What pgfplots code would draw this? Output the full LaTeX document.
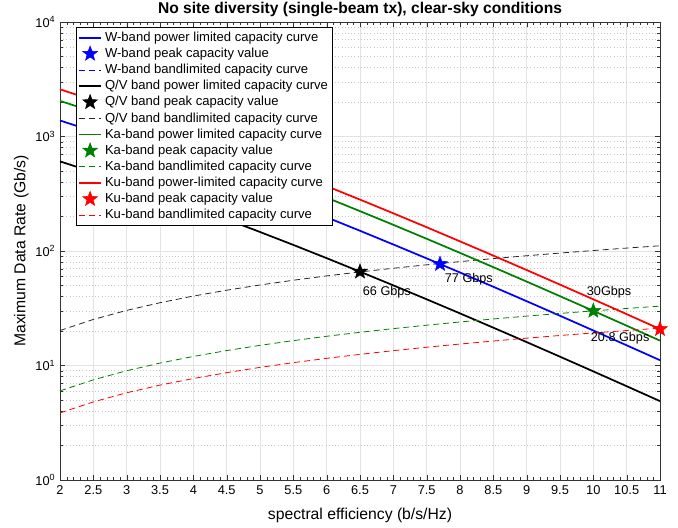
\documentclass[border=0pt]{standalone}
\usepackage{fontspec}
\setmainfont{Liberation Sans}
\usepackage{pgfplots}
\pgfplotsset{compat=1.18}
\definecolor{mgreen}{rgb}{0,0.5,0}
\pgfdeclareplotmark{fstar}{%
  \pgfpathmoveto{\pgfqpointpolar{90}{\pgfplotmarksize}}%
  \pgfpathlineto{\pgfqpointpolar{126}{0.42\pgfplotmarksize}}%
  \pgfpathlineto{\pgfqpointpolar{162}{\pgfplotmarksize}}%
  \pgfpathlineto{\pgfqpointpolar{198}{0.42\pgfplotmarksize}}%
  \pgfpathlineto{\pgfqpointpolar{234}{\pgfplotmarksize}}%
  \pgfpathlineto{\pgfqpointpolar{270}{0.42\pgfplotmarksize}}%
  \pgfpathlineto{\pgfqpointpolar{306}{\pgfplotmarksize}}%
  \pgfpathlineto{\pgfqpointpolar{342}{0.42\pgfplotmarksize}}%
  \pgfpathlineto{\pgfqpointpolar{18}{\pgfplotmarksize}}%
  \pgfpathlineto{\pgfqpointpolar{54}{0.42\pgfplotmarksize}}%
  \pgfpathclose
  \pgfusepathqfillstroke
}
\begin{document}
\begin{tikzpicture}
\begin{axis}[
  scale only axis, width=450pt, height=343.5pt,
  ymode=log, xmin=2, xmax=11, ymin=1, ymax=10000,
  xtick={2,2.5,3,3.5,4,4.5,5,5.5,6,6.5,7,7.5,8,8.5,9,9.5,10,10.5,11},
  minor x tick num=4,
  ytick={1,10,100,1000,10000},
  yticklabels={10\textsuperscript{0},10\textsuperscript{1},10\textsuperscript{2},10\textsuperscript{3},10\textsuperscript{4}},
  /pgf/number format/assume math mode=true,
  tick label style={font=\fontsize{9.6}{11}\selectfont},
  xticklabel style={yshift=-1pt},
  tick align=inside,
  major tick length=4pt, minor tick length=2pt,
  xmajorgrids, ymajorgrids, yminorgrids,
  major grid style={gray!22, solid},
  minor grid style={gray!45, dotted},
  axis line style={black!80},
  tick style={black!80},
  title={\bfseries No site diversity (single-beam tx), clear-sky conditions},
  title style={font=\fontsize{11.7}{13}\selectfont, at={(axis description cs:0.5,1)}, anchor=base, inner sep=0pt},
  xlabel={spectral efficiency (b/s/Hz)},
  ylabel={Maximum Data Rate (Gb/s)},
  label style={font=\fontsize{11.8}{13}\selectfont},
  xlabel style={at={(axis description cs:0.5,0)}, anchor=center, yshift=-26.5pt},
  ylabel style={at={(axis description cs:0,0.5)}, anchor=center, yshift=29pt},
  legend style={at={(0.026,0.989)}, anchor=north west, draw=black, fill=white,
    font=\fontsize{9.8}{11}\selectfont, cells={anchor=west}, row sep=-0.5pt, inner sep=1.5pt},
  every axis plot/.append style={mark size=5.8pt},
]
\coordinate (BL) at (rel axis cs:0,0);
\coordinate (TR) at (rel axis cs:1,1);
% W-band
\addplot[blue, line width=1.3pt] coordinates {(2,1379.3)(2.5,1110.7)(3,886.7)(3.5,702.1)(4,551.7)(4.5,430.5)(5,333.7)(5.5,257.1)(6,197.0)(6.5,150.2)(7,114.0)(7.5,86.20)(8,64.91)(8.5,48.71)(9,36.44)(9.5,27.18)(10,20.22)(10.5,15.01)(11,11.12)};
\addlegendentry{W-band power limited capacity curve}
\addplot[blue, only marks, mark=fstar] coordinates {(7.7,77)};
\addlegendentry{W-band peak capacity value}
\addplot[blue, line width=0.6pt, dash pattern=on 4.5pt off 3pt, draw opacity=0, legend image post style={draw opacity=1}] coordinates {(2,20.2)(2.5,25.25)(3,30.3)(3.5,35.35)(4,40.4)(4.5,45.45)(5,50.5)(5.5,55.55)(6,60.6)(6.5,65.65)(7,70.7)(7.5,75.75)(8,80.8)(8.5,85.85)(9,90.9)(9.5,95.95)(10,101)(10.5,106.05)(11,111.1)};
\addlegendentry{W-band bandlimited capacity curve}
% Q/V band
\addplot[black, line width=1.3pt] coordinates {(2,606.0)(2.5,488.0)(3,389.6)(3.5,308.5)(4,242.4)(4.5,189.1)(5,146.6)(5.5,113.0)(6,86.57)(6.5,66.01)(7,50.10)(7.5,37.87)(8,28.52)(8.5,21.40)(9,16.01)(9.5,11.94)(10,8.886)(10.5,6.595)(11,4.885)};
\addlegendentry{Q/V band power limited capacity curve}
\addplot[black, only marks, mark=fstar] coordinates {(6.5,66)};
\addlegendentry{Q/V band peak capacity value}
\addplot[black!85, line width=0.6pt, dash pattern=on 4.5pt off 3pt] coordinates {(2,20.2)(2.5,25.25)(3,30.3)(3.5,35.35)(4,40.4)(4.5,45.45)(5,50.5)(5.5,55.55)(6,60.6)(6.5,65.65)(7,70.7)(7.5,75.75)(8,80.8)(8.5,85.85)(9,90.9)(9.5,95.95)(10,101)(10.5,106.05)(11,111.1)};
\addlegendentry{Q/V band bandlimited capacity curve}
% Ka band
\addplot[mgreen, line width=1.3pt] coordinates {(2,2046)(2.5,1647.6)(3,1315.3)(3.5,1041.5)(4,818.4)(4.5,638.6)(5,495.0)(5.5,381.4)(6,292.3)(6.5,222.9)(7,169.2)(7.5,127.9)(8,96.28)(8.5,72.25)(9,54.05)(9.5,40.32)(10,30.00)(10.5,22.27)(11,16.49)};
\addlegendentry{Ka-band power limited capacity curve}
\addplot[mgreen, only marks, mark=fstar] coordinates {(10,30)};
\addlegendentry{Ka-band peak capacity value}
\addplot[mgreen, line width=0.6pt, dash pattern=on 4.5pt off 3pt] coordinates {(2,6)(2.5,7.5)(3,9)(3.5,10.5)(4,12)(4.5,13.5)(5,15)(5.5,16.5)(6,18)(6.5,19.5)(7,21)(7.5,22.5)(8,24)(8.5,25.5)(9,27)(9.5,28.5)(10,30)(10.5,31.5)(11,33)};
\addlegendentry{Ka-band bandlimited capacity curve}
% Ku band
\addplot[red, line width=1.3pt] coordinates {(2,2580.7)(2.5,2078.1)(3,1659.0)(3.5,1313.6)(4,1032.3)(4.5,805.4)(5,624.4)(5.5,481.1)(6,368.7)(6.5,281.1)(7,213.4)(7.5,161.3)(8,121.4)(8.5,91.14)(9,68.18)(9.5,50.86)(10,37.84)(10.5,28.09)(11,20.80)};
\addlegendentry{Ku-band power-limited capacity curve}
\addplot[red, only marks, mark=fstar] coordinates {(11,20.8)};
\addlegendentry{Ku-band peak capacity value}
\addplot[red, line width=0.6pt, dash pattern=on 4.5pt off 3pt] coordinates {(2,3.85)(2.5,4.81)(3,5.78)(3.5,6.74)(4,7.70)(4.5,8.66)(5,9.63)(5.5,10.59)(6,11.55)(6.5,12.51)(7,13.48)(7.5,14.44)(8,15.40)(8.5,16.36)(9,17.33)(9.5,18.29)(10,19.25)(10.5,20.21)(11,21.18)};
\addlegendentry{Ku-band bandlimited capacity curve}
% annotations
\node[anchor=west, font=\fontsize{9.5}{11}\selectfont, inner sep=0pt] at (axis cs:6.54,43.4) {66 Gbps};
\node[anchor=west, font=\fontsize{9.5}{11}\selectfont, inner sep=0pt] at (axis cs:7.77,57.2) {77 Gbps};
\node[anchor=west, font=\fontsize{9.5}{11}\selectfont, inner sep=0pt] at (axis cs:9.90,43.8) {30Gbps};
\node[anchor=west, font=\fontsize{9.5}{11}\selectfont, inner sep=0pt] at (axis cs:9.96,17.4) {20.8 Gbps};
\end{axis}
\pgfresetboundingbox
\path ([shift={(-45pt,-35.25pt)}]BL) rectangle ([shift={(13.5pt,16.5pt)}]TR);
\end{tikzpicture}
\end{document}
